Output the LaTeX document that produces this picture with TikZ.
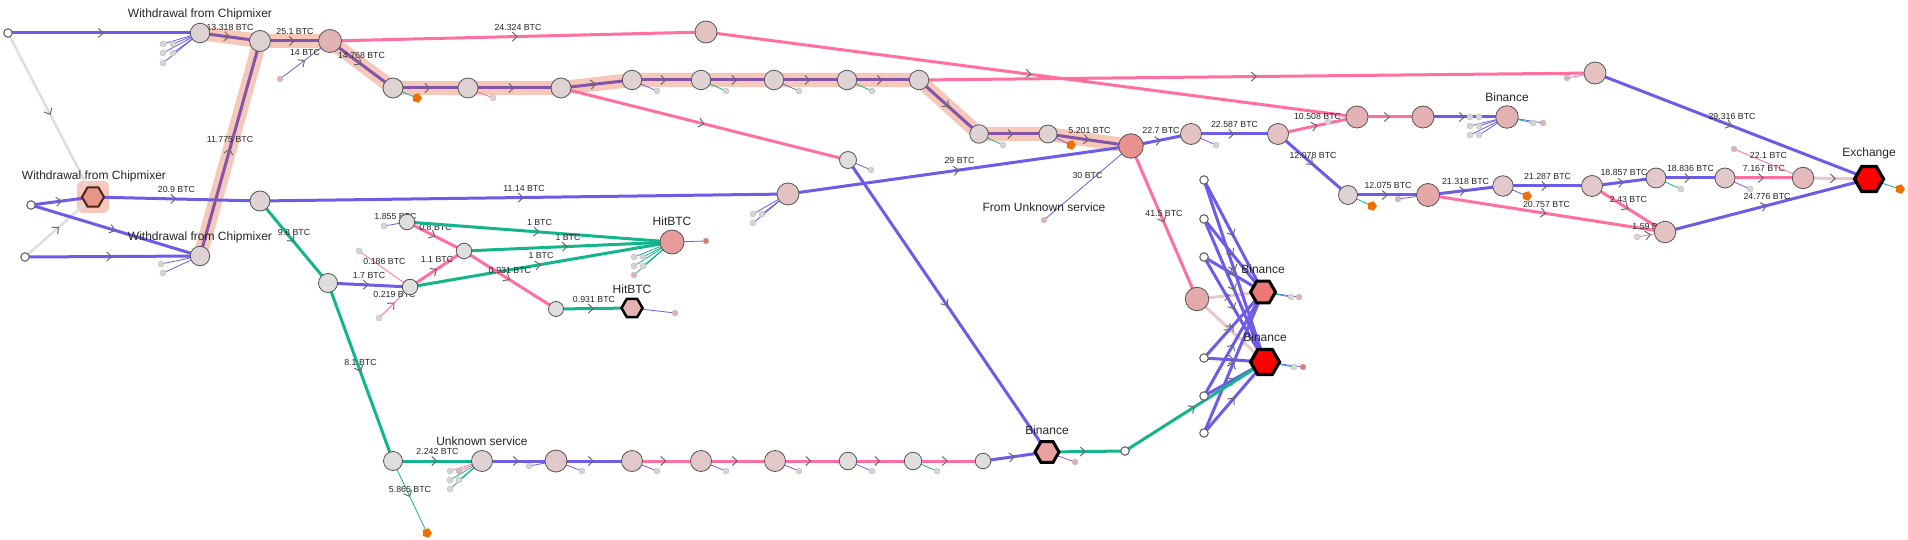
\documentclass[tikz,border=0pt]{standalone}
\usepackage{fontspec}
\setmainfont{Liberation Sans}
\usetikzlibrary{shapes.geometric,arrows.meta,decorations.markings}
\pgfdeclarelayer{bg}\pgfdeclarelayer{hl}\pgfdeclarelayer{edges}
\pgfsetlayers{bg,hl,edges,main}
\definecolor{cblue}{RGB}{108,92,231}
\definecolor{cpink}{RGB}{255,112,160}
\definecolor{cgreen}{RGB}{20,180,140}
\definecolor{cgrey}{RGB}{222,222,222}
\definecolor{cpurp}{RGB}{132,84,170}
\definecolor{chl}{RGB}{245,200,185}
\definecolor{cpale}{RGB}{232,200,200}
\definecolor{corange}{RGB}{238,110,0}
\definecolor{cborder}{RGB}{85,85,85}
\definecolor{carr}{RGB}{105,105,105}
\definecolor{fA}{RGB}{222,210,210}
\definecolor{fG}{RGB}{224,221,221}
\definecolor{fL}{RGB}{215,212,212}
\definecolor{fLp}{RGB}{220,180,180}
\definecolor{fLr}{RGB}{225,120,120}
\definecolor{fP1}{RGB}{228,194,194}
\definecolor{fP2}{RGB}{228,178,178}
\definecolor{fP3}{RGB}{226,200,200}
\tikzset{
 arr/.style={postaction={decorate,decoration={markings,mark=at position #1 with {\arrow[carr,line width=1pt]{Straight Barb[length=5pt,width=9pt]}}}}},
 arr/.default=0.5,
 eb/.style={draw=cblue,line width=3pt},
 ep/.style={draw=cpink,line width=3pt},
 eg/.style={draw=cgreen,line width=3pt},
 egy/.style={draw=cgrey,line width=2.5pt},
 epl/.style={draw=cpale,line width=3pt},
 epu/.style={draw=cpurp,line width=3pt},
 tb/.style={draw=cblue,line width=0.8pt},
 tp/.style={draw=cpink,line width=0.8pt},
 tg/.style={draw=cgreen,line width=0.8pt},
 hlb/.style={draw=chl,line width=14pt,line join=round},
 lbl/.style={font=\fontsize{8.8}{10}\selectfont,inner sep=0.5pt,above=4pt,text=black!85},
 nlab/.style={font=\fontsize{12}{14}\selectfont,inner sep=0pt,text=black!85},
 nd/.style={circle,draw=cborder,line width=0.8pt,inner sep=0pt,minimum size=20pt,fill=fA},
 gn/.style={nd,fill=fG},
 wn/.style={circle,draw=cborder!90,line width=1.1pt,fill=white,inner sep=0pt,minimum size=8.5pt},
 lf/.style={circle,draw=black!25,line width=0.4pt,fill=fL,inner sep=0pt,minimum size=6pt},
 org/.style={regular polygon,regular polygon sides=5,shape border rotate=-90,fill=corange,inner sep=0pt,minimum size=10pt},
 hexn/.style={regular polygon,regular polygon sides=6,draw=black,line width=3pt,inner sep=0pt},
}
\begin{document}
\begin{tikzpicture}[x=1pt,y=-1pt]
\useasboundingbox (0,0) rectangle (1908,540);
\begin{pgfonlayer}{bg}
\fill[white] (0,0) rectangle (1908,540);
\end{pgfonlayer}
% ---------------- nodes ----------------
\node[wn] (A0) at (8,33) {};
\node[wn] (A1) at (31,205) {};
\node[wn] (A2) at (25,257) {};
\node[hexn,fill={rgb,255:red,230;green,150;blue,135},draw={rgb,255:red,80;green,35;blue,25},line width=2pt,minimum size=22pt] (H1) at (93,197) {};
\node[nd,minimum size=19.5pt] (W1) at (200,33) {};
\node[nd,minimum size=19.5pt] (W2) at (200,256) {};
\node[nd,minimum size=21pt] (N2) at (260,41) {};
\node[nd,minimum size=23pt,fill={rgb,255:red,227;green,178;blue,178}] (N3) at (330,41) {};
\node[nd] (N4) at (393,88) {};
\node[nd] (N5) at (468,88) {};
\node[nd] (N5b) at (561,88) {};
\node[nd,minimum size=19.5pt] (N7) at (632,80) {};
\node[nd,minimum size=19.5pt] (N8) at (701,80) {};
\node[nd,minimum size=19.5pt] (N9) at (774,80) {};
\node[nd,minimum size=19.5pt] (N10) at (847,80) {};
\node[nd,minimum size=19.5pt] (N11) at (919,80) {};
\node[nd,minimum size=18.5pt] (N12) at (979,134) {};
\node[nd,minimum size=18pt] (N13) at (1048,134) {};
\node[nd,minimum size=24.5pt,fill={rgb,255:red,232;green,145;blue,143}] (R) at (1131,146) {};
\node[nd,minimum size=22pt,fill=fP1] (P) at (706,32) {};
\node[nd] (N6) at (260,201) {};
\node[nd,minimum size=22pt,fill=fP1] (M) at (788,194) {};
\node[gn,minimum size=19pt] (G1) at (328,283) {};
\node[gn,minimum size=19pt] (G2) at (393,461) {};
\node[gn,minimum size=15.5pt] (Na) at (407,222) {};
\node[gn,minimum size=15.5pt] (Nb) at (464,251) {};
\node[gn,minimum size=15.5pt] (Nc) at (410,287) {};
\node[gn,minimum size=15pt] (Ne) at (556,309) {};
\node[nd,minimum size=24pt,fill={rgb,255:red,232;green,155;blue,155}] (HB) at (672,242) {};
\node[hexn,fill=fP2,line width=2.5pt,minimum size=21pt] (HH) at (632,308) {};
\node[gn,minimum size=17pt] (Ng) at (848,160) {};
\node[nd,minimum size=21pt] (US) at (482,461) {};
\node[nd,minimum size=22pt,fill=fP3] (C1) at (556,461) {};
\node[nd,minimum size=21pt,fill=fP3] (C2) at (632,461) {};
\node[nd,minimum size=21pt,fill=fP3] (C3) at (701,461) {};
\node[nd,minimum size=21pt,fill=fP3] (C4) at (775,461) {};
\node[gn,minimum size=17.5pt] (C5) at (848,461) {};
\node[gn,minimum size=17.5pt] (C6) at (913,461) {};
\node[gn,minimum size=15.5pt] (C7) at (983,461) {};
\node[hexn,fill={rgb,255:red,232;green,160;blue,160},minimum size=24pt] (BH) at (1047,452) {};
\node[wn] (WB) at (1125,451) {};
\node[nd,minimum size=21pt,fill=fP1] (N14) at (1191,134) {};
\node[nd,minimum size=21pt,fill=fP1] (N15) at (1278,134) {};
\node[nd,minimum size=22pt,fill=fP2] (N16) at (1357,117) {};
\node[nd,minimum size=22pt,fill=fP2] (N17) at (1423,117) {};
\node[nd,minimum size=22.5pt,fill=fP2] (B3) at (1507,117) {};
\node[nd,minimum size=19pt] (N18) at (1348,195) {};
\node[nd,minimum size=23pt,fill={rgb,255:red,228;green,168;blue,168}] (N19) at (1428,195) {};
\node[nd,minimum size=20.5pt,fill=fP3] (N20) at (1503,186) {};
\node[nd,minimum size=21pt,fill=fP3] (N21) at (1592,186) {};
\node[nd,minimum size=20pt,fill=fP3] (N22) at (1656,178) {};
\node[nd,minimum size=20pt,fill=fP3] (N23) at (1725,178) {};
\node[nd,minimum size=21.5pt,fill={rgb,255:red,228;green,185;blue,185}] (N25) at (1803,178) {};
\node[nd,minimum size=21.5pt,fill=fP1] (N24) at (1665,232) {};
\node[nd,minimum size=22pt,fill=fP1] (Q) at (1595,73) {};
\node[hexn,fill=red,line width=3.2pt,minimum size=29pt] (EX) at (1869,179) {};
\node[nd,minimum size=23.5pt,fill={rgb,255:red,228;green,170;blue,170}] (Bn) at (1197,299) {};
\node[hexn,fill={rgb,255:red,236;green,120;blue,120},minimum size=25pt] (H2) at (1263,292) {};
\node[hexn,fill=red,line width=3.2pt,minimum size=29pt] (H3) at (1265,362) {};
\foreach \n/\y in {Wt1/180,Wt2/219,Wt3/257,Wt4/358,Wt5/396,Wt6/433} \node[wn] (\n) at (1204,\y) {};
% leaves
\foreach \n/\x/\y in {lwa/163/44,lwb/173/44,lwc/163/53,lwd/173/53,lwe/163/63,lxa/161/264,lxb/163/273,
  lN5/493/98,lN7/657/91,lN8/726/91,lN9/799/91,lN10/872/91,lN12/1003/145,lNg/871/170,
  lMa/753/214,lMb/762/214,lMc/753/223,lHa/634/257,lHb/643/257,lHc/634/266,lHd/643/266,
  la/384/226,lc1/359/251,lc2/379/318,lu1/450/471,lu3/450/480,lu4/459/480,lu5/450/489,
  lC1a/529/466,lC1b/582/471,lC2/657/471,lC3/726/471,lC4/799/471,lC5/872/471,lC6/937/471,
  lN14/1216/145,lN16/1328/122,lBa/1470/117,lBb/1479/117,lBc/1470/126,lBd/1479/126,lBe/1470/135,lBf/1479/135,
  lBg/1533/123,lN22/1681/189,lN23/1750/189,l159/1637/237,lH2a/1291/297,lH3a/1294/367}
  \node[lf] (\n) at (\x,\y) {};
\foreach \n/\x/\y in {l14/280/79,lHe/634/275,lHH/675/313,lu2/459/471,lBH/1075/462,lBh/1543/123,lN19/1398/199,
  l221/1734/149,lQ/1567/78,lH2b/1299/297,FU/1044/220}
  \node[lf,fill=fLp] (\n) at (\x,\y) {};
\foreach \n/\x/\y in {lHBo/706/241,lH3b/1303/367}
  \node[lf,fill=fLr] (\n) at (\x,\y) {};
\foreach \n/\x/\y in {oN4/417/98,oN13/1071/145,oG2/427/533,oN18/1372/206,oN20/1527/196,oEX/1900/189}
  \node[org] (\n) at (\x,\y) {};
% labels
\node[nlab] (L1) at (200,14) {Withdrawal from Chipmixer};
\node[nlab] (L2) at (94,176) {Withdrawal from Chipmixer};
\node[nlab] (L3) at (200,237) {Withdrawal from Chipmixer};
\node[nlab] (L4) at (672,221) {HitBTC};
\node[nlab] (L5) at (632,289) {HitBTC};
\node[nlab] (L6) at (482,441) {Unknown service};
\node[nlab] (L7) at (1047,430) {Binance};
\node[nlab] (L8) at (1044,207) {From Unknown service};
\node[nlab] (L9) at (1263,269) {Binance};
\node[nlab] (L10) at (1265,337) {Binance};
\node[nlab] (L11) at (1507,97) {Binance};
\node[nlab] (L12) at (1869,153) {Exchange};
% ---------------- highlight ----------------
\begin{pgfonlayer}{hl}
\draw[hlb] (W1.center) -- (N2.center) -- (N3.center) -- (N4.center) -- (N5.center) -- (N5b.center) -- (N7.center) -- (N8.center) -- (N9.center) -- (N10.center) -- (N11.center) -- (N12.center) -- (N13.center) -- (R.center);
\draw[hlb] (W2.center) -- (N2.center);
\fill[chl,rounded corners=6pt] (77,181) rectangle (109,213);
\end{pgfonlayer}
% ---------------- edges ----------------
\begin{pgfonlayer}{edges}
\draw[egy,arr] (A0.center) -- (H1.center);
\draw[egy,arr] (A2.center) -- (H1.center);
\draw[eb,arr] (A0.center) -- (W1.center);
\draw[eb,arr] (A1.center) -- (H1.center);
\draw[eb,arr] (A1.center) -- (W2.center);
\draw[eb,arr] (A2.center) -- (W2.center);
\draw[eb,arr] (H1.center) -- node[lbl](t1){20.9 BTC} (N6.center);
\draw[epu,arr] (W2.center) -- node[lbl](t2){11.775 BTC} (N2.center);
\draw[epu,arr] (W1.center) -- node[lbl](t3){13.318 BTC} (N2.center);
\draw[epu,arr] (N2.center) -- node[lbl](t4){25.1 BTC} (N3.center);
\draw[epu,arr] (N3.center) -- node[lbl](t5){14.768 BTC} (N4.center);
\foreach \a/\b in {N4/N5,N5/N5b,N5b/N7,N7/N8,N8/N9,N9/N10,N10/N11,N11/N12,N12/N13} \draw[epu,arr] (\a.center) -- (\b.center);
\draw[epu,arr] (N13.center) -- node[lbl](t6){5.201 BTC} (R.center);
\draw[tb,arr] (l14.center) -- node[lbl](t7){14 BTC} (N3.center);
\draw[ep,arr] (N3.center) -- node[lbl](t8){24.324 BTC} (P.center);
\draw[ep,arr] (P.center) -- (N16.center);
\draw[ep,arr] (N5b.center) -- (Ng.center);
\draw[ep,arr] (N11.center) -- (Q.center);
\draw[eb,arr] (Ng.center) -- (BH.center);
\draw[eb,arr] (N6.center) -- node[lbl](t9){11.14 BTC} (M.center);
\draw[eb,arr] (M.center) -- node[lbl](t10){29 BTC} (R.center);
\draw[eg,arr] (N6.center) -- node[lbl](t11){9.8 BTC} (G1.center);
\draw[eb,arr] (G1.center) -- node[lbl](t12){1.7 BTC} (Nc.center);
\draw[eg,arr] (G1.center) -- node[lbl](t13){8.1 BTC} (G2.center);
\draw[eg,arr] (G2.center) -- node[lbl](t14){2.242 BTC} (US.center);
\draw[tg,arr] (G2.center) -- node[lbl](t15){5.865 BTC} (oG2.center);
\draw[ep,arr] (Nc.center) -- node[lbl](t16){1.1 BTC} (Nb.center);
\draw[ep,arr] (Na.center) -- node[lbl](t17){0.8 BTC} (Nb.center);
\draw[tb] (la.center) -- node[lbl](t18){1.855 BTC} (Na.center);
\draw[eg,arr] (Na.center) -- node[lbl](t19){1 BTC} (HB.center);
\draw[eg,arr] (Nb.center) -- node[lbl](t20){1 BTC} (HB.center);
\draw[eg,arr] (Nc.center) -- node[lbl](t21){1 BTC} (HB.center);
\draw[ep,arr] (Nb.center) -- node[lbl](t22){0.931 BTC} (Ne.center);
\draw[eg,arr] (Ne.center) -- node[lbl](t23){0.931 BTC} (HH.center);
\draw[tp] (lc1.center) -- node[lbl](t24){0.186 BTC} (Nc.center);
\draw[tp,arr] (lc2.center) -- node[lbl](t25){0.219 BTC} (Nc.center);
\draw[eb,arr] (R.center) -- node[lbl](t26){22.7 BTC} (N14.center);
\draw[eb,arr] (N14.center) -- node[lbl](t27){22.587 BTC} (N15.center);
\draw[ep,arr] (N15.center) -- node[lbl](t28){10.508 BTC} (N16.center);
\draw[ep,arr] (N16.center) -- (N17.center);
\draw[eb,arr] (N17.center) -- (B3.center);
\draw[eb,arr] (N15.center) -- node[lbl](t29){12.078 BTC} (N18.center);
\draw[eb,arr] (N18.center) -- node[lbl](t30){12.075 BTC} (N19.center);
\draw[eb,arr] (N19.center) -- node[lbl](t31){21.318 BTC} (N20.center);
\draw[eb,arr] (N20.center) -- node[lbl](t32){21.287 BTC} (N21.center);
\draw[ep,arr] (N19.center) -- node[lbl](t33){20.757 BTC} (N24.center);
\draw[eb,arr] (N21.center) -- node[lbl](t34){18.857 BTC} (N22.center);
\draw[ep,arr] (N21.center) -- node[lbl](t35){2.43 BTC} (N24.center);
\draw[eb,arr] (N22.center) -- node[lbl](t36){18.836 BTC} (N23.center);
\draw[ep,arr] (N23.center) -- node[lbl](t37){7.167 BTC} (N25.center);
\draw[tp] (l221.center) -- node[lbl](t38){22.1 BTC} (N25.center);
\draw[epl,arr] (N25.center) -- (EX.center);
\draw[eb,arr] (N24.center) -- node[lbl](t39){24.776 BTC} (EX.center);
\draw[tp,arr] (l159.center) -- node[lbl](t40){1.59 BTC} (N24.center);
\draw[eb,arr] (Q.center) -- node[lbl](t41){29.316 BTC} (EX.center);
\draw[tp] (lQ.center) -- (Q.center);
\draw[tg] (EX.center) -- (oEX.center);
\draw[ep,arr] (R.center) -- node[lbl](t42){41.5 BTC} (Bn.center);
\draw[epl,arr] (Bn.center) -- (H2.center);
\draw[epl,arr] (Bn.center) -- (H3.center);
\foreach \w in {Wt1,Wt2,Wt3,Wt4,Wt5,Wt6} {\draw[eb,arr] (\w.center) -- (H2.center); \draw[eb,arr] (\w.center) -- (H3.center);}
\draw[eg,arr] (BH.center) -- (WB.center);
\draw[eg,arr] (WB.center) -- (H3.center);
\draw[tb] (FU.center) -- node[lbl](t43){30 BTC} (R.center);
\foreach \a/\b/\s in {US/C1/eb,C1/C2/eb,C2/C3/ep,C3/C4/ep,C4/C5/ep,C5/C6/ep,C6/C7/ep,C7/BH/eb} \draw[\s,arr] (\a.center) -- (\b.center);
% leaf connectors
\foreach \l in {lwa,lwb,lwc,lwd,lwe} \draw[tb] (\l.center) -- (W1.center);
\foreach \l in {lxa,lxb} \draw[tb] (\l.center) -- (W2.center);
\draw[tg] (N4.center) -- (oN4.center);
\draw[tp] (N5.center) -- (lN5.center);
\draw[tb] (N7.center) -- (lN7.center);
\draw[tg] (N8.center) -- (lN8.center);
\draw[tb] (N9.center) -- (lN9.center);
\draw[tg] (N10.center) -- (lN10.center);
\draw[tg] (N12.center) -- (lN12.center);
\draw[tb] (N13.center) -- (oN13.center);
\draw[tb] (Ng.center) -- (lNg.center);
\foreach \l in {lMa,lMb,lMc} \draw[tb] (\l.center) -- (M.center);
\draw[tb] (HB.center) -- (lHBo.center);
\foreach \l in {lHa,lHb,lHc,lHd,lHe} \draw[tg] (\l.center) -- (HB.center);
\draw[tb] (HH.center) -- (lHH.center);
\foreach \l in {lu1,lu2} \draw[tp] (\l.center) -- (US.center);
\foreach \l in {lu3,lu4,lu5} \draw[tg] (\l.center) -- (US.center);
\draw[tb] (lC1a.center) -- (C1.center);
\draw[tb] (C1.center) -- (lC1b.center);
\draw[tb] (C2.center) -- (lC2.center);
\draw[tb] (C3.center) -- (lC3.center);
\draw[tb] (C4.center) -- (lC4.center);
\draw[tb] (C5.center) -- (lC5.center);
\draw[tg] (C6.center) -- (lC6.center);
\draw[tb] (BH.center) -- (lBH.center);
\draw[tb] (N14.center) -- (lN14.center);
\draw[tp] (lN16.center) -- (N16.center);
\foreach \l in {lBa,lBb,lBc,lBd,lBe,lBf} \draw[tb] (\l.center) -- (B3.center);
\draw[tb] (B3.center) -- (lBh.center);
\draw[tg] (B3.center) -- (lBg.center);
\draw[tg] (N18.center) -- (oN18.center);
\draw[tb] (lN19.center) -- (N19.center);
\draw[tb] (N20.center) -- (oN20.center);
\draw[tg] (N22.center) -- (lN22.center);
\draw[tb] (N23.center) -- (lN23.center);
\draw[tb] (H2.center) -- (lH2b.center);
\draw[tg] (H2.center) -- (lH2a.center);
\draw[tb] (H3.center) -- (lH3b.center);
\draw[tg] (H3.center) -- (lH3a.center);
\end{pgfonlayer}
\end{tikzpicture}
\end{document}
